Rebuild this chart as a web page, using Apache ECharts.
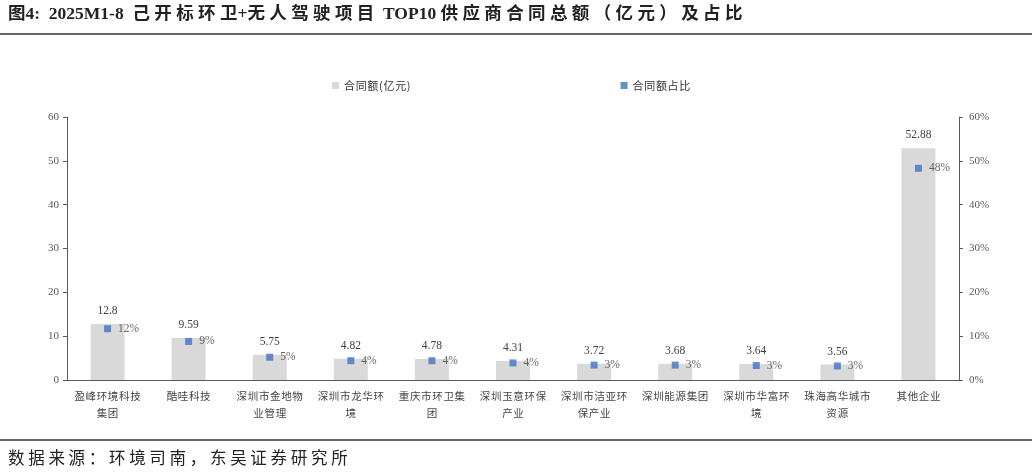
<!DOCTYPE html>
<html>
<head>
<meta charset="utf-8">
<script src="https://cdn.jsdelivr.net/npm/echarts@6/dist/echarts.min.js"></script>
<style>
  html, body { margin: 0; padding: 0; background: #fff; }
  #chart { width: 1032px; height: 472px; }
</style>
</head>
<body>
<div id="chart"></div>
<script>
// 类别（供应商）
const categories = ['盈峰环境科技\n集团', '酷哇科技', '深圳市金地物\n业管理', '深圳市龙华环\n境', '重庆市环卫集\n团',
    '深圳玉意环保\n产业', '深圳市洁亚环\n保产业', '深圳能源集团', '深圳市华富环\n境', '珠海高华城市\n资源', '其他企业']
// 合同额（亿元）
const amount = [12.8, 9.59, 5.75, 4.82, 4.78, 4.31, 3.72, 3.68, 3.64, 3.56, 52.88]
// 合同额占比（%）
const share = [11.7, 8.8, 5.2, 4.4, 4.4, 3.9, 3.4, 3.4, 3.3, 3.2, 48.3]
// 坐标轴刻度
const leftTicks = [0, 10, 20, 30, 40, 50, 60]
const rightTicks = [0, 10, 20, 30, 40, 50, 60]

const serif = '"Liberation Serif", "DejaVu Serif", "Noto Sans CJK SC", serif'
const cjk = '"Noto Sans CJK SC", serif'

// 中文字符之间加一点间距，模仿原图的排版
function spread(s, gap) {
    return s.split('\n').map(function (line) {
        return line.split('').join(gap);
    }).join('\n');
}

var myChart = echarts.init(document.getElementById('chart'));
var option = {
    backgroundColor: '#fff',
    animation: false,
    textStyle: { fontFamily: serif },
    graphic: [
        { type: 'text', left: 8, top: 6,
          style: { text: '图4:  2025M1-8  ' + spread('己开标环卫', ' ') + '+' + spread('无人驾驶项目', ' ') + '  TOP10 ' + spread('供应商合同总额（亿元）及占比', ' '),
                   font: 'bold 17.5px ' + serif, fill: '#222' } },
        { type: 'rect', left: 0, top: 33, shape: { width: 1032, height: 2 }, style: { fill: '#666' } },
        { type: 'rect', left: 0, top: 439, shape: { width: 1032, height: 2 }, style: { fill: '#666' } },
        { type: 'text', left: 8, top: 449,
          style: { text: spread('数据来源：环境司南，东吴证券研究所', ' '), font: '16.5px ' + cjk, fill: '#222' } }
    ],
    legend: {
        top: 75,
        left: 327,
        itemGap: 210,
        itemWidth: 7,
        itemHeight: 7,
        textStyle: { fontSize: 11, color: '#333', fontFamily: cjk },
        formatter: function (name) { return spread(name, '\u200a') },
        data: [
            { name: '合同额(亿元)', icon: 'rect' },
            { name: '合同额占比', icon: 'rect' }
        ]
    },
    grid: { left: 67, right: 73, top: 117, bottom: 92 },
    xAxis: {
        type: 'category',
        data: categories,
        axisLine: { lineStyle: { color: '#595959', width: 1 } },
        axisTick: { inside: true, length: 4, lineStyle: { color: '#595959' } },
        axisLabel: {
            fontSize: 10.5, color: '#444', fontFamily: cjk, lineHeight: 17, margin: 8, interval: 0,
            formatter: function (v) { return spread(v, '\u200a') }
        }
    },
    yAxis: [
        {
            type: 'value', min: leftTicks[0], max: leftTicks[leftTicks.length - 1], interval: 10,
            axisLine: { show: true, lineStyle: { color: '#595959' } },
            axisTick: { show: true, length: 4, lineStyle: { color: '#595959' } },
            axisLabel: { fontSize: 11, color: '#595959', margin: 8 },
            splitLine: { show: false }
        },
        {
            type: 'value', min: rightTicks[0], max: rightTicks[rightTicks.length - 1], interval: 10,
            axisLine: { show: true, lineStyle: { color: '#595959' } },
            axisTick: { show: true, length: 4, lineStyle: { color: '#595959' } },
            axisLabel: { fontSize: 11, color: '#595959', margin: 10, formatter: '{value}%' },
            splitLine: { show: false }
        }
    ],
    series: [
        {
            name: '合同额(亿元)',
            type: 'bar',
            data: amount,
            barWidth: 34,
            itemStyle: { color: '#d9d9d9' },
            label: { show: true, position: 'top', distance: 7, fontSize: 11.5, color: '#404040' }
        },
        {
            name: '合同额占比',
            type: 'scatter',
            yAxisIndex: 1,
            data: share,
            symbol: 'rect',
            symbolSize: 7,
            itemStyle: { color: '#4472c4' },
            label: {
                show: true, position: 'right', distance: 7, fontSize: 11.5, color: '#404040',
                formatter: function (p) { return Math.round(p.value) + '%' }
            }
        }
    ]
};
myChart.setOption(option);
</script>
</body>
</html>
